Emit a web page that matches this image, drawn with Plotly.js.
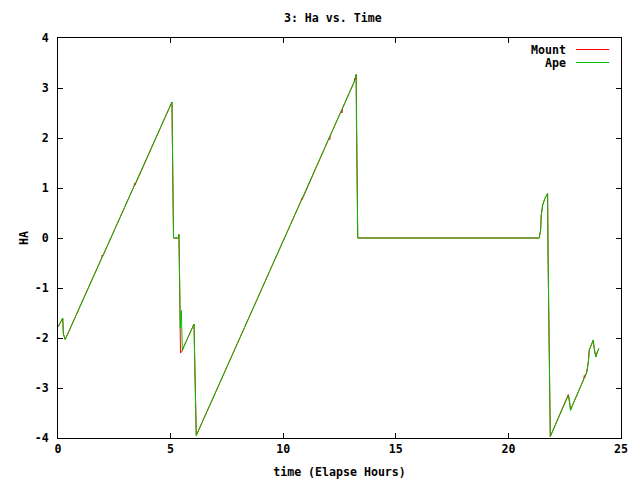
<!DOCTYPE html>
<html>
<head>
<meta charset="utf-8">
<script src="https://cdn.plot.ly/plotly-3.0.1.min.js"></script>
<style>
html,body{margin:0;padding:0;background:#fff;}
#chart{width:640px;height:480px;}
</style>
</head>
<body>
<div id="chart"></div>
<script>
// Elapsed time (hours) and hour angle for each series
const apeTime = [0.00, 0.21, 0.24, 0.32, 5.06, 5.08, 5.10, 5.13, 5.35, 5.37, 5.40, 5.43, 5.48, 5.50, 5.52, 5.56, 6.04, 6.06, 6.10, 6.14,
  13.20, 13.24, 13.25, 13.27, 13.31, 21.37, 21.43, 21.46, 21.52, 21.62, 21.74, 21.76, 21.81, 21.86,
  22.66, 22.70, 22.76, 22.88, 23.48, 23.55, 23.59, 23.70, 23.77, 23.80, 23.88, 23.95, 24.02];
const apeHA = [-1.78, -1.60, -1.92, -2.03, 2.72, 2.05, 0.68, 0.00, 0.00, 0.07, -0.75, -1.80, -1.45, -2.00, -2.25, -2.20, -1.72, -2.27, -3.40, -3.95,
  3.17, 3.27, 2.43, 0.81, 0.00, 0.00, 0.16, 0.46, 0.66, 0.79, 0.89, -0.30, -2.78, -3.97,
  -3.15, -3.20, -3.45, -3.31, -2.68, -2.48, -2.24, -2.09, -2.04, -2.18, -2.38, -2.28, -2.21];

const mountTime = [0.00, 0.21, 0.24, 0.32, 1.94, 1.96, 1.98, 3.38, 3.40, 3.42, 5.06, 5.08, 5.10, 5.13, 5.35, 5.37, 5.38, 5.39, 5.41, 5.44, 5.52, 5.56, 6.04, 6.06, 6.10, 6.14,
  10.80, 10.82, 10.84, 12.05, 12.07, 12.09, 12.59, 12.61, 12.63, 13.16, 13.18, 13.20, 13.24, 13.25, 13.27, 13.31, 21.37, 21.43, 21.46, 21.52, 21.62, 21.74, 21.76, 21.81, 21.86,
  22.66, 22.70, 22.76, 22.88, 23.35, 23.37, 23.39, 23.48, 23.55, 23.59, 23.70, 23.77, 23.80, 23.88, 23.95, 24.02];
const mountHA = [-1.78, -1.60, -1.92, -2.03, -0.40, -0.34, -0.37, 1.04, 1.10, 1.06, 2.72, 2.05, 0.68, 0.00, 0.00, 0.07, -0.30, -0.55, -0.90, -2.30, -2.26, -2.20, -1.72, -2.27, -3.40, -3.95,
  0.75, 0.80, 0.77, 2.01, 1.97, 2.05, 2.55, 2.50, 2.59, 3.13, 3.20, 3.17, 3.27, 2.43, 0.81, 0.00, 0.00, 0.16, 0.46, 0.66, 0.79, 0.89, -0.30, -2.78, -3.97,
  -3.13, -3.22, -3.43, -3.31, -2.82, -2.75, -2.79, -2.68, -2.48, -2.24, -2.09, -2.04, -2.18, -2.38, -2.28, -2.21];

const xTicks = [0, 5, 10, 15, 20, 25];
const yTicks = [-4, -3, -2, -1, 0, 1, 2, 3, 4];

const FONT = {family: 'DejaVu Sans Mono, monospace', size: 11.6, color: '#000', weight: 'bold'};
const RED = '#ff0000', GREEN = '#00c000';

const traces = [
  {x: mountTime, y: mountHA, type: 'scatter', mode: 'lines', name: 'Mount', line: {color: RED, width: 1}, showlegend: false},
  {x: apeTime, y: apeHA, type: 'scatter', mode: 'lines', name: 'Ape', line: {color: GREEN, width: 1}, showlegend: false}
];

const axisCommon = {
  showline: true, linecolor: '#000', linewidth: 1, mirror: 'allticks',
  ticks: 'inside', ticklen: 5, tickwidth: 1, tickcolor: '#000',
  showgrid: false, zeroline: false, tickfont: FONT
};

const layout = {
  width: 640, height: 480,
  margin: {l: 58, r: 19, t: 38, b: 42},
  paper_bgcolor: '#fff', plot_bgcolor: '#fff',
  font: FONT,
  title: {text: '3: Ha vs. Time', font: FONT, x: 0.52, xanchor: 'center', y: 0.962, yanchor: 'middle'},
  xaxis: Object.assign({}, axisCommon, {
    range: [0, 25], tickvals: xTicks, ticktext: xTicks.map(String),
    title: {text: 'time (Elapse Hours)', font: FONT, standoff: 12}
  }),
  yaxis: Object.assign({}, axisCommon, {
    range: [-4, 4], tickvals: yTicks, ticktext: yTicks.map(String),
    ticklabelstandoff: 6,
    title: {text: 'HA', font: FONT, standoff: 3}
  }),
  showlegend: false,
  annotations: [
    {xref: 'paper', yref: 'paper', x: 0.905, y: 0.971, xanchor: 'right', yanchor: 'middle', text: 'Mount', showarrow: false, font: FONT},
    {xref: 'paper', yref: 'paper', x: 0.905, y: 0.938, xanchor: 'right', yanchor: 'middle', text: 'Ape', showarrow: false, font: FONT}
  ],
  shapes: [
    {type: 'line', xref: 'paper', yref: 'paper', x0: 0.92, x1: 0.979, y0: 0.97125, y1: 0.97125, line: {color: RED, width: 1}},
    {type: 'line', xref: 'paper', yref: 'paper', x0: 0.92, x1: 0.979, y0: 0.93875, y1: 0.93875, line: {color: GREEN, width: 1}}
  ]
};

Plotly.newPlot('chart', traces, layout, {staticPlot: true, displayModeBar: false});
</script>
</body>
</html>
